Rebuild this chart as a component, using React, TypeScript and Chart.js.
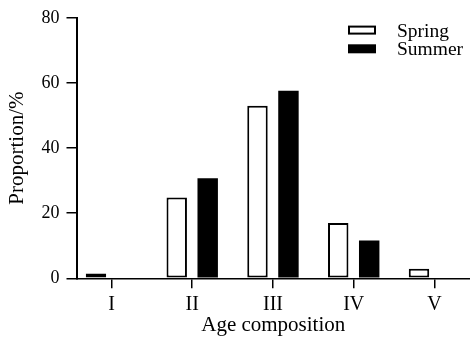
import React, { useEffect, useRef } from "react";
import { Chart, registerables } from "chart.js";

Chart.register(...registerables);

const categories = ["I", "II", "III", "IV", "V"];
const springValues = [1.5, 24.8, 53.0, 17.0, 2.9];
const summerValues = [0, 30.7, 57.6, 11.6, 0];
const yTicks = [0, 20, 40, 60, 80];
const seriesNames = ["Spring", "Summer"];

const FONT = "'Liberation Serif', 'Times New Roman', serif";

const legendPlugin = {
  id: "insideLegend",
  afterDraw(chart: any) {
    const { ctx, chartArea } = chart;
    const x0 = chartArea.right - 122;
    ctx.save();
    chart.data.datasets.forEach((ds: any, i: number) => {
      const y0 = chartArea.top + 7.8 + i * 18.7;
      const w = 28;
      const h = 9;
      if (i === 1) {
        ctx.fillStyle = "#000";
        ctx.fillRect(x0, y0, w, h);
      } else {
        ctx.fillStyle = "#fff";
        ctx.fillRect(x0, y0, w, h);
        ctx.strokeStyle = "#000";
        ctx.lineWidth = 2;
        ctx.strokeRect(x0 + 1, y0 + 1, w - 2, h - 2);
      }
      ctx.fillStyle = "#000";
      ctx.font = `19.5px ${FONT}`;
      ctx.textBaseline = "middle";
      ctx.textAlign = "left";
      ctx.fillText(ds.label, x0 + 49, y0 + h / 2 + 1.5);
    });
    ctx.restore();
  },
};

export default function App() {
  const ref = useRef<HTMLCanvasElement | null>(null);

  useEffect(() => {
    if (!ref.current) return;
    const chart = new Chart(ref.current, {
      type: "bar",
      data: {
        datasets: [
          {
            label: seriesNames[0],
            data: categories.map((_, i) => ({ x: i, y: springValues[i] })),
            backgroundColor: "#fff",
            borderColor: "#000",
            borderWidth: 2,
            borderSkipped: false,
          },
          {
            label: seriesNames[1],
            data: categories.map((_, i) => ({ x: i, y: summerValues[i] })),
            backgroundColor: "#000",
            borderColor: "#000",
            borderWidth: 0,
          },
        ],
      },
      options: {
        responsive: false,
        animation: false,
        layout: { padding: { top: 15.5, left: 0, right: 0, bottom: 0 } },
        datasets: {
          bar: { categoryPercentage: 0.767, barPercentage: 0.66 },
        },
        plugins: {
          legend: { display: false },
          tooltip: { enabled: false },
        },
        scales: {
          x: {
            type: "linear",
            offset: false,
            min: -0.433,
            max: 4.44,
            afterFit: (scale: any) => {
              scale.height = 58.7;
            },
            afterBuildTicks: (scale: any) => {
              scale.ticks = categories.map((_, i) => ({ value: i }));
            },
            ticks: {
              autoSkip: false,
              maxRotation: 0,
              padding: 4,
              color: "#000",
              font: { family: FONT, size: 20 },
              callback: (v: any) =>
                Number.isInteger(v) && categories[v] !== undefined ? categories[v] : "",
            },
            grid: {
              offset: false,
              drawOnChartArea: false,
              drawTicks: true,
              tickLength: 10,
              tickColor: "#000",
              lineWidth: 1.5,
            },
            border: { display: true, color: "#000", width: 1.5 },
            title: {
              display: true,
              text: "Age composition",
              color: "#000",
              font: { family: FONT, size: 21 },
              padding: { top: 0, bottom: -1.5 },
            },
          },
          y: {
            min: 0,
            max: 80,
            afterFit: (scale: any) => {
              scale.width = 76.5;
            },
            afterBuildTicks: (scale: any) => {
              scale.ticks = yTicks.map((v) => ({ value: v }));
            },
            ticks: {
              padding: 7,
              color: "#000",
              font: { family: FONT, size: 18 },
            },
            grid: {
              drawOnChartArea: false,
              drawTicks: true,
              tickLength: 10,
              tickColor: "#000",
              lineWidth: 1.5,
            },
            border: { display: true, color: "#000", width: 2 },
            title: {
              display: true,
              text: "Proportion/%",
              color: "#000",
              font: { family: FONT, size: 21 },
              padding: { top: 5, bottom: 11 },
            },
          },
        },
      },
      plugins: [legendPlugin],
    } as any);
    return () => chart.destroy();
  }, []);

  return (
    <div style={{ position: "absolute", left: 0, top: 0, width: 470, height: 337 }}>
      <canvas ref={ref} width={470} height={337} style={{ display: "block" }} />
    </div>
  );
}
